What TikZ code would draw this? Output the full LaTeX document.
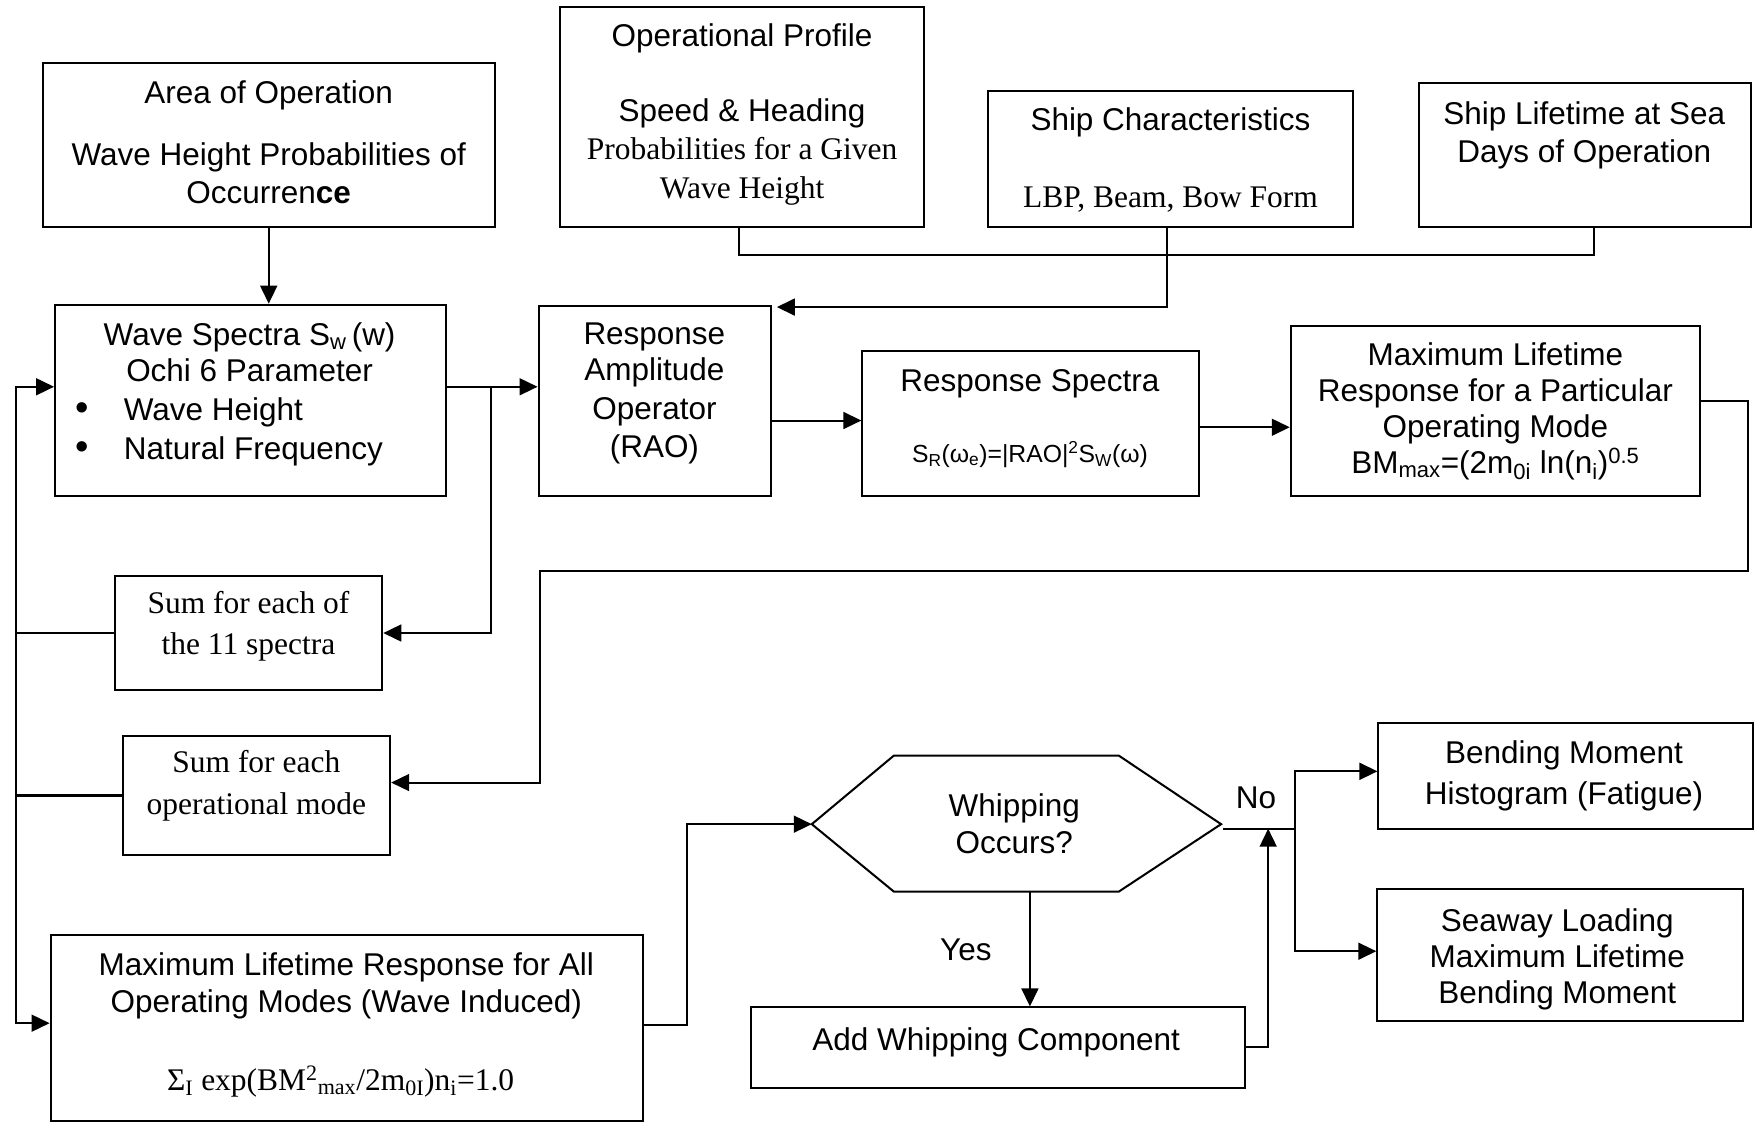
\documentclass[tikz,border=0pt]{standalone}
\usepackage{fontspec}
\setmainfont{Liberation Sans}
\newfontfamily\tnr{Liberation Serif}
\usetikzlibrary{arrows.meta}
\begin{document}
\begin{tikzpicture}[x=1pt,y=-1pt,
  box/.style={draw, line width=1.8pt, inner sep=0pt},
  txt/.style={align=center, inner sep=0pt, font=\fontsize{28}{34}\selectfont,
    execute at begin node=\strut, execute at end node=\strut},
  ser/.style={txt, font=\tnr\fontsize{28}{34}\selectfont},
  link/.style={line width=1.8pt},
  arr/.style={link, -{Triangle[length=16pt,width=15pt]}},
]
\fill[white] (0,0) rectangle (1568,999);
\useasboundingbox (0,0) rectangle (1568,999);

% input boxes along the top
\node[box, minimum width=402pt, minimum height=146pt] (area) at (239,129) {};
\node[txt] (area-t) at (239,131.7) {Area of Operation\\[21pt]Wave Height Probabilities of\\Occurren\textbf{ce}};

\node[box, minimum width=324pt, minimum height=196pt] (oper) at (660,104) {};
\node[txt] (oper-t) at (660,104.2) {Operational Profile\\[32pt]Speed \& Heading\\{\tnr Probabilities for a Given}\\[1pt]{\tnr Wave Height}};

\node[box, minimum width=324pt, minimum height=121pt] (shipc) at (1041,141.5) {};
\node[txt] (shipc-t) at (1041,145.2) {Ship Characteristics\\[34pt]{\tnr LBP, Beam, Bow Form}};

\node[box, minimum width=295pt, minimum height=128pt] (life) at (1409.5,138) {};
\node[txt] (life-t) at (1409,122.7) {Ship Lifetime at Sea\\Days of Operation};

% main processing chain
\node[box, minimum width=348pt, minimum height=170pt] (wspec) at (223,356) {};
\node[txt] (wspec-t) at (222,318.2) {Wave Spectra S\textsubscript{w}\,(w)\\[-2pt]Ochi 6 Parameter};
\node[txt, align=left, anchor=west] (wspec-l) at (67,386.2)
  {\makebox[43pt][l]{\fontsize{34}{34}\selectfont\textbullet}Wave Height\\\makebox[43pt][l]{\fontsize{34}{34}\selectfont\textbullet}Natural Frequency};

\node[box, minimum width=207pt, minimum height=169pt] (rao) at (582.5,356.5) {};
\node[txt] (rao-t) at (582,352.2) {Response\\[-2pt]Amplitude\\Operator\\(RAO)};

\node[box, minimum width=299pt, minimum height=129pt] (rspec) at (916.5,376.5) {};
\node[txt] (rspec-t) at (916,341.7) {Response Spectra};
\node[inner sep=0pt, font=\fontsize{22}{26}\selectfont, anchor=base] (rspec-f) at (916,411)
  {S\textsubscript{R}(ω\textsubscript{e})=|RAO|\textsuperscript{2}S\textsubscript{W}(ω)};

\node[box, minimum width=364pt, minimum height=151pt] (mlife) at (1330,365.5) {};
\node[txt] (mlife-t) at (1330,368.2) {Maximum Lifetime\\[-2pt]Response for a Particular\\[-2pt]Operating Mode\\[-2pt]BM\textsubscript{max}=(2m\textsubscript{0i} ln(n\textsubscript{i})\textsuperscript{0.5}};

% summation boxes
\node[box, minimum width=238pt, minimum height=102pt] (sum11) at (221,563) {};
\node[ser] (sum11-t) at (221,559.2) {Sum for each of\\[3pt]the 11 spectra};

\node[box, minimum width=238pt, minimum height=105pt] (sumop) at (228,707.5) {};
\node[ser] (sumop-t) at (228,701.2) {Sum for each\\[3pt]operational mode};

\node[box, minimum width=527pt, minimum height=165pt] (mall) at (308.5,914.5) {};
\node[txt] (mall-t) at (308,879.2) {Maximum Lifetime Response for All\\[-1pt]Operating Modes (Wave Induced)};
\node[ser] (mall-f) at (303,963.2) {Σ\textsubscript{I} exp(BM\textsuperscript{2}\textsubscript{max}/2m\textsubscript{0I})n\textsubscript{i}=1.0};

% decision
\coordinate (hexL) at (722,733);
\coordinate (hexTL) at (795,672);
\coordinate (hexTR) at (995,672);
\coordinate (hexR) at (1086,733);
\coordinate (hexBR) at (995,793);
\coordinate (hexBL) at (795,793);
\draw[link] (hexL) -- (hexTL) -- (hexTR) -- (hexR) -- (hexBR) -- (hexBL) -- cycle;
\node[txt] (hex-t) at (902,737.7) {Whipping\\[-1pt]Occurs?};

\node[box, minimum width=439pt, minimum height=72pt] (add) at (887.5,932) {};
\node[txt] (add-t) at (886,927.7) {Add Whipping Component};

\node[box, minimum width=333pt, minimum height=94pt] (bmh) at (1392.5,690) {};
\node[txt] (bmh-t) at (1391,692.2) {Bending Moment\\[2pt]Histogram (Fatigue)};

\node[box, minimum width=325pt, minimum height=117pt] (sea) at (1387.5,849.5) {};
\node[txt] (sea-t) at (1385,855.2) {Seaway Loading\\[-2pt]Maximum Lifetime\\[-2pt]Bending Moment};

\node[txt] (no) at (1117,712.2) {No};
\node[txt] (yes) at (859,847.2) {Yes};

% connectors
\draw[arr] (area.south) -- (area.south |- wspec.north);
\draw[link] ([xshift=-3pt]oper.south) -- ++(0,24) -| ([xshift=8.5pt]life.south);
\draw[arr] ([xshift=-3pt]shipc.south) |- ([xshift=4pt,yshift=-2pt]rao.north east);
\draw[arr] ([yshift=12pt]wspec.east) -- ([yshift=12pt]wspec.east -| rao.west);
\coordinate (split1) at ([yshift=12pt,xshift=39pt]wspec.east);
\draw[arr] (split1) |- (sum11.east);
\draw[arr] ([yshift=-17.5pt]rao.east) -- ([yshift=-17.5pt]rao.east -| rspec.west);
\draw[arr] ([yshift=-3.5pt]rspec.east) -- ([yshift=-3.5pt]rspec.east -| mlife.west);
\coordinate (jog) at (480,508);
\draw[arr] ([yshift=8.5pt]mlife.east) -- ++(42,0) |- (jog) |- ([yshift=11.5pt]sumop.east);
\coordinate (rail) at (14,0);
\draw[arr] (sum11.west) -- (sum11.west -| rail) |- ([yshift=12pt]wspec.west);
\draw[arr] (sumop.west) -- (sumop.west -| rail) |- ([yshift=4.5pt]mall.west);
\draw[link] (sum11.west -| rail) -- (sumop.west -| rail);
\draw[arr] ([yshift=2.5pt]mall.east) -- ++(38,0) |- (hexL);
\coordinate (hexB) at (916,793);
\draw[arr] (hexB) -- (hexB |- add.north);
\coordinate (noL) at (1088,737);
\coordinate (split2) at (1152,737);
\draw[link] (noL) -- (split2);
\draw[arr] ([yshift=1pt]add.east) -- ++(20,0) coordinate (ret) -- (ret |- split2);
\draw[arr] (split2) |- ([yshift=4pt]bmh.west);
\draw[arr] (split2) |- ([yshift=3.5pt]sea.west);
\end{tikzpicture}
\end{document}
